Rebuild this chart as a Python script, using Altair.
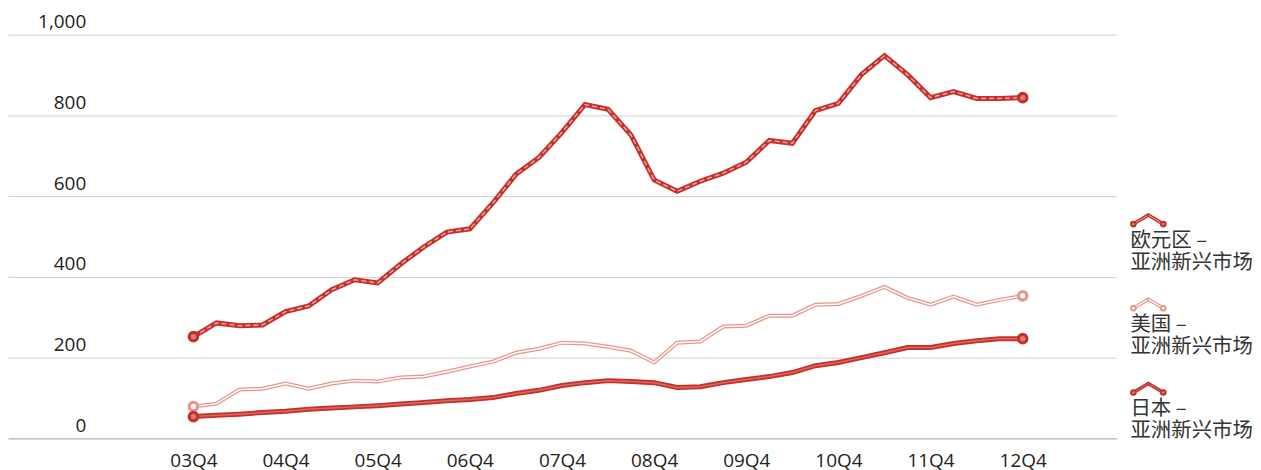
import altair as alt
import pandas as pd

# ---------------- data ----------------
quarters = [
    "03Q4",
    "04Q1", "04Q2", "04Q3", "04Q4",
    "05Q1", "05Q2", "05Q3", "05Q4",
    "06Q1", "06Q2", "06Q3", "06Q4",
    "07Q1", "07Q2", "07Q3", "07Q4",
    "08Q1", "08Q2", "08Q3", "08Q4",
    "09Q1", "09Q2", "09Q3", "09Q4",
    "10Q1", "10Q2", "10Q3", "10Q4",
    "11Q1", "11Q2", "11Q3", "11Q4",
    "12Q1", "12Q2", "12Q3", "12Q4",
]
tick_quarters = ["03Q4", "04Q4", "05Q4", "06Q4", "07Q4", "08Q4", "09Q4", "10Q4", "11Q4", "12Q4"]

euro_vals = [252, 286, 279, 281, 314, 328, 368, 393, 385, 432, 474, 511, 519,
             583, 654, 696, 758, 827, 815, 751, 640, 612, 637, 657, 684,
             738, 731, 812, 830, 901, 948, 901, 844, 859, 842, 842, 844]
us_vals = [79, 86, 121, 123, 136, 123, 136, 143, 141, 151, 153, 165, 178,
           190, 212, 222, 237, 235, 227, 217, 188, 237, 240, 277, 279,
           304, 304, 331, 333, 353, 375, 348, 331, 351, 331, 343, 353]
japan_vals = [54, 57, 60, 64, 67, 72, 75, 78, 81, 85, 89, 93, 96,
              101, 111, 119, 131, 138, 143, 141, 138, 126, 128, 138, 146,
              153, 163, 180, 188, 200, 212, 225, 225, 235, 242, 247, 247]

series_names = ["欧元区 – 亚洲新兴市场", "美国 – 亚洲新兴市场", "日本 – 亚洲新兴市场"]
legend_line1 = ["欧元区 –", "美国 –", "日本 –"]
legend_line2 = "亚洲新兴市场"
y_ticks = [0, 200, 400, 600, 800, 1000]

series_values = [euro_vals, us_vals, japan_vals]

rows = []
for name, vals in zip(series_names, series_values):
    for i, (q, v) in enumerate(zip(quarters, vals)):
        rows.append({"series": name, "idx": i, "quarter": q, "value": v})
df = pd.DataFrame(rows)
last_idx = len(quarters) - 1

# ---------------- styles ----------------
RED = "#c4302b"
SALMON = "#e6968a"
styles = {
    series_names[0]: dict(outer=RED, ow=5, inner="#e9a49d", iw=1.5, dash=[5, 3],
                          mfill="#dc7c74", mstroke=RED, lw=3.5, liw=1.0),
    series_names[1]: dict(outer=SALMON, ow=4, inner="#ffffff", iw=1.5, dash=None,
                          mfill="#ffffff", mstroke=SALMON, lw=3.5, liw=1.2),
    series_names[2]: dict(outer=RED, ow=5, inner="#e0655e", iw=1.5, dash=None,
                          mfill="#dc7c74", mstroke=RED, lw=3.5, liw=1.0),
}

W, H = 1112, 405
X_DOMAIN = [-8.05, 40.07]

label_arr = "[" + ",".join("'%s'" % q for q in quarters) + "]"
tick_vals = [quarters.index(q) for q in tick_quarters]

x_enc = alt.X(
    "idx:Q",
    scale=alt.Scale(domain=X_DOMAIN, nice=False, zero=False),
    axis=alt.Axis(
        values=tick_vals,
        labelExpr=label_arr + "[datum.value]",
        ticks=False,
        domain=True,
        domainColor="#b5b5b5",
        domainWidth=1,
        grid=False,
        labelFont="Open Sans",
        labelFontSize=19,
        labelColor="#222222",
        labelPadding=13,
        labelFlush=False,
        labelOverlap=False,
        title=None,
    ),
)
y_enc = alt.Y(
    "value:Q",
    scale=alt.Scale(domain=[0, 1000], nice=False),
    axis=alt.Axis(
        values=y_ticks,
        format=",d",
        grid=True,
        gridColor="#cfcfcf",
        gridWidth=1,
        ticks=False,
        domain=False,
        labelPadding=-78,
        labelAlign="right",
        labelBaseline="alphabetic",
        labelOffset=-7,
        labelFont="Open Sans",
        labelFontSize=19,
        labelColor="#222222",
        title=None,
    ),
)

layers = []
draw_order = [series_names[1], series_names[2], series_names[0]]
for name in draw_order:
    st = styles[name]
    base = alt.Chart(df).transform_filter(alt.datum.series == name)
    layers.append(
        base.mark_line(color=st["outer"], strokeWidth=st["ow"], strokeJoin="miter")
        .encode(x=x_enc, y=y_enc)
    )
    inner_kwargs = dict(color=st["inner"], strokeWidth=st["iw"], strokeJoin="miter")
    if st["dash"]:
        inner_kwargs["strokeDash"] = st["dash"]
    layers.append(base.mark_line(**inner_kwargs).encode(x=x_enc, y=y_enc))
    layers.append(
        base.transform_filter("datum.idx == 0 || datum.idx == %d" % last_idx)
        .mark_point(shape="circle", filled=True, size=72, fill=st["mfill"],
                    stroke=st["mstroke"], strokeWidth=3.2, opacity=1,
                    fillOpacity=1, strokeOpacity=1)
        .encode(x=x_enc, y=y_enc)
    )

# ---------------- legend (custom) ----------------
LX0, LXP, LX1 = 1129, 1144, 1159
for k, name in enumerate(series_names):
    st = styles[name]
    cy = 190 + 84.5 * k
    py = cy - 9
    ldf = pd.DataFrame({"label": [legend_line1[k] + "\n" + legend_line2]})
    lb = alt.Chart(ldf)
    for (xa, ya, xb, yb) in [(LX0, cy, LXP, py), (LXP, py, LX1, cy)]:
        layers.append(lb.mark_rule(color=st["outer"], strokeWidth=st["lw"], strokeCap="round").encode(
            x=alt.value(xa), x2=alt.value(xb), y=alt.value(ya), y2=alt.value(yb)))
        layers.append(lb.mark_rule(color=st["inner"], strokeWidth=st["liw"]).encode(
            x=alt.value(xa), x2=alt.value(xb), y=alt.value(ya), y2=alt.value(yb)))
    for xc in (LX0, LX1):
        layers.append(lb.mark_point(shape="circle", filled=True, size=22, fill=st["mfill"],
                                    stroke=st["mstroke"], strokeWidth=2, opacity=1).encode(
            x=alt.value(xc), y=alt.value(cy)))
    layers.append(lb.mark_text(align="left", baseline="alphabetic", lineBreak="\n",
                               lineHeight=22, font="Noto Sans CJK SC", fontSize=20.5,
                               color="#333333").encode(
        x=alt.value(1126), y=alt.value(cy + 23), text="label:N"))

chart = (
    alt.layer(*layers)
    .properties(width=W, height=H, padding={"left": 0, "top": 4, "right": 0, "bottom": 0})
    .configure_view(stroke=None)
)

chart.save("out.html", embed_options={"renderer": "svg", "actions": False})
